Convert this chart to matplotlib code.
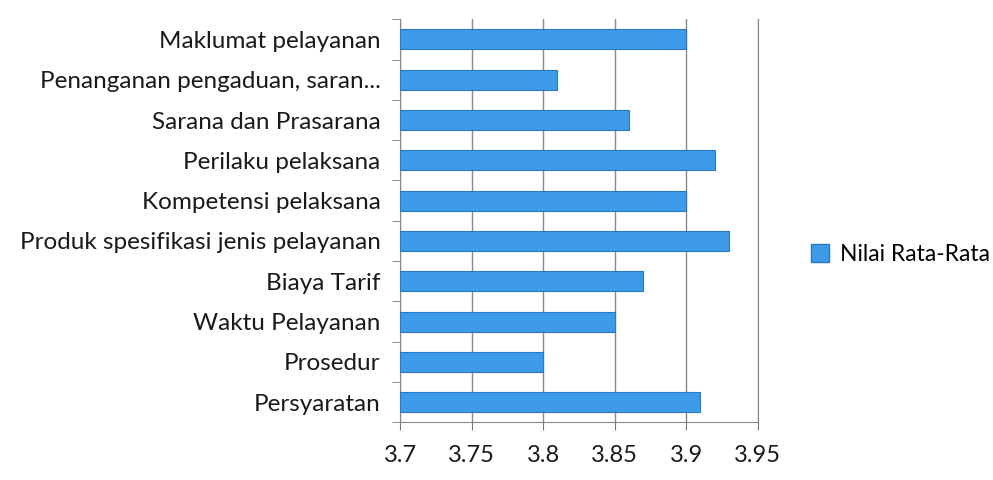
import numpy as np
import matplotlib.pyplot as plt
from matplotlib.patches import Patch

categories = ["Persyaratan", "Prosedur", "Waktu Pelayanan", "Biaya Tarif",
              "Produk spesifikasi jenis pelayanan", "Kompetensi pelaksana",
              "Perilaku pelaksana", "Sarana dan Prasarana",
              "Penanganan pengaduan, saran...", "Maklumat pelayanan"]
values = [3.91, 3.80, 3.85, 3.87, 3.93, 3.90, 3.92, 3.86, 3.81, 3.90]
xticks = [3.7, 3.75, 3.8, 3.85, 3.9, 3.95]
series_name = "Nilai Rata-Rata"

plt.rcParams['font.family'] = ['Lato', 'DejaVu Sans']

fig = plt.figure(figsize=(9.93, 4.8), dpi=100)
ax = fig.add_axes([0.403, 0.12, 0.36, 0.84])

y = np.arange(len(categories))
ax.barh(y, np.array(values) - 3.7, left=3.7, height=0.5,
        color="#3d9be9", edgecolor="#2b78c2", linewidth=0.8, zorder=3)

ax.set_xlim(3.7, 3.95)
ax.set_ylim(-0.5, len(categories) - 0.5)
ax.set_xticks(xticks)
ax.set_xticklabels([f"{v:g}" for v in xticks], fontsize=17, color="#1a1a1a")
ax.set_yticks(y)
ax.set_yticklabels(categories, fontsize=17.5, color="#1a1a1a")
ax.set_yticks(np.arange(-0.5, len(categories)), minor=True)
ax.tick_params(axis="y", which="major", length=0, pad=14)
ax.tick_params(axis="y", which="minor", length=6, color="#777777", direction="out")
ax.tick_params(axis="x", length=6, color="#777777", pad=10)

ax.grid(axis="x", color="#888888", linewidth=1, zorder=0)
ax.spines["top"].set_visible(False)
for s in ["left", "bottom", "right"]:
    ax.spines[s].set_color("#888888")

fig.legend(handles=[Patch(facecolor="#3d9be9", edgecolor="#2b78c2", label=series_name)],
           loc="center left", bbox_to_anchor=(0.807, 0.47), frameon=False,
           fontsize=16.5, handlelength=0.8, handleheight=0.8, handletextpad=0.5,
           borderaxespad=0)

fig.savefig("out.png", dpi=100)
